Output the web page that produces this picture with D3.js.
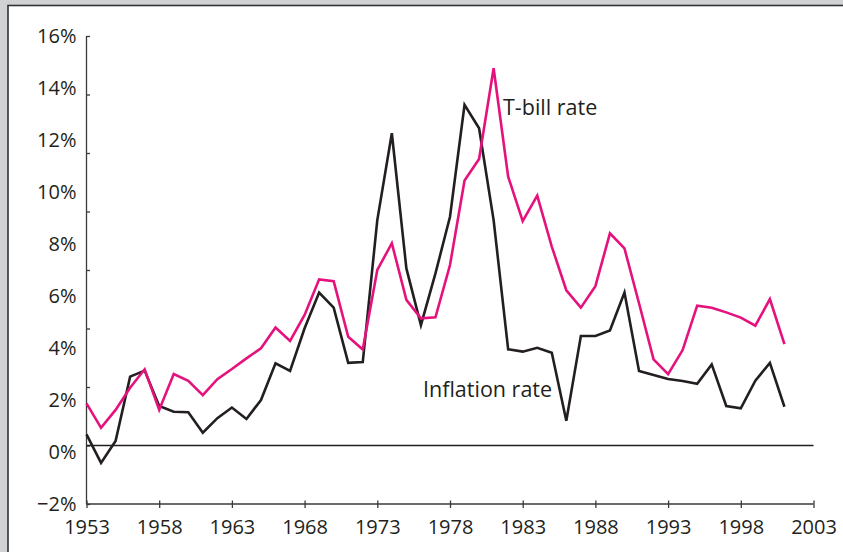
<!DOCTYPE html>
<html>
<head>
<meta charset="utf-8">
<script src="https://cdn.jsdelivr.net/npm/d3@7"></script>
<style>
  html, body { margin: 0; padding: 0; background: #d1d2d4; }
  svg { display: block; }
  svg text { font-family: "Open Sans", "Noto Sans", sans-serif; }
  .axis path, .axis line { stroke: #3a3a3a; stroke-width: 1.3; }
  .axis text { fill: #231f20; font-size: 20px; }
  .series { fill: none; stroke-width: 2.6; stroke-linejoin: miter; }
  .note { fill: #231f20; font-size: 21.5px; }
</style>
</head>
<body>
<svg id="chart" width="843" height="552"></svg>
<script>
// annual figures, 1953 - 2001 (percent)
var years = d3.range(1953, 2002);

var tbillRate = [
  1.87, 0.93, 1.62, 2.47, 3.18, 1.62, 3.00, 2.74, 2.19, 2.80,
  3.19, 3.60, 3.99, 4.79, 4.27, 5.27, 6.64, 6.57, 4.43, 3.94,
  7.00, 8.03, 5.85, 5.14, 5.18, 7.19, 10.44, 11.27, 14.76, 10.59,
  8.88, 9.86, 7.90, 6.22, 5.55, 6.38, 8.41, 7.83, 5.72, 3.56,
  2.99, 3.92, 5.63, 5.55, 5.37, 5.17, 4.86, 5.88, 4.15
];

var inflationRate = [
  0.68, -0.42, 0.42, 2.90, 3.13, 1.77, 1.55, 1.53, 0.74, 1.30,
  1.71, 1.27, 2.00, 3.41, 3.12, 4.76, 6.13, 5.55, 3.43, 3.46,
  8.92, 12.26, 7.06, 4.88, 6.87, 9.05, 13.35, 12.45, 8.92, 3.95,
  3.86, 4.01, 3.82, 1.20, 4.46, 4.46, 4.67, 6.13, 3.12, 2.96,
  2.81, 2.73, 2.62, 3.37, 1.77, 1.68, 2.74, 3.43, 1.74
];

var yLabels = d3.range(-2, 17, 2);      // -2% .. 16%
var yMarks = d3.range(-2, 15, 2);       // the printed tick marks stop one short
var xTicks = d3.range(1953, 2004, 5);

(function() {
  var svg = d3.select('#chart');

  // white panel
  svg.append('rect')
    .attr('x', 8).attr('y', 5.5)
    .attr('width', 860).attr('height', 580)
    .attr('fill', '#fff')
    .attr('stroke', '#333').attr('stroke-width', 1.6);

  var x = d3.scaleLinear().domain([1953, 2003]).range([86.5, 813.5]);
  var y = d3.scaleLinear().domain([-2, 16]).range([504, 36]);
  // the tick marks (and zero rule) in the original are spread over 8 steps, not 9
  var yMark = d3.scaleLinear().domain([-2, 14]).range([504, 36]);

  var fmt = function(d) { return (d < 0 ? '\u2212' : '') + Math.abs(d) + '%'; };

  // y tick marks, crossing the axis
  var gMarks = svg.append('g')
    .attr('class', 'axis')
    .attr('transform', 'translate(' + x(1953) + ',0)')
    .call(d3.axisLeft(yMark).tickValues(yMarks).tickSize(3.5).tickFormat(''));
  gMarks.select('.domain').remove();
  gMarks.selectAll('.tick line').attr('x2', 3.5);

  // y labels + axis line
  var gy = svg.append('g')
    .attr('class', 'axis')
    .attr('transform', 'translate(' + x(1953) + ',0)')
    .call(d3.axisLeft(y).tickValues(yLabels).tickSize(0).tickPadding(10).tickFormat(fmt));
  gy.select('.domain').attr('d', 'M0,' + y(16) + 'V' + y(-2));

  // x axis
  var gx = svg.append('g')
    .attr('class', 'axis')
    .attr('transform', 'translate(0,' + y(-2) + ')')
    .call(d3.axisBottom(x).tickValues(xTicks).tickSize(4).tickFormat(d3.format('d')));
  gx.select('.domain').attr('d', 'M' + x(1953) + ',0H' + x(2003));
  gx.selectAll('.tick line').attr('y1', -3.5);
  gx.selectAll('.tick text').attr('y', 16);

  // zero rule
  svg.append('line')
    .attr('x1', x(1953)).attr('x2', x(2003))
    .attr('y1', yMark(0)).attr('y2', yMark(0))
    .attr('stroke', '#231f20').attr('stroke-width', 1.3);

  var line = function(vals) {
    return d3.line()
      .x(function(d, i) { return x(years[i]); })
      .y(function(d) { return y(d); })(vals);
  };

  svg.append('path')
    .attr('class', 'series')
    .attr('stroke', '#231f20')
    .attr('d', line(inflationRate));

  svg.append('path')
    .attr('class', 'series')
    .attr('stroke', '#e5127d')
    .attr('d', line(tbillRate));

  svg.append('text').attr('class', 'note')
    .attr('x', 503).attr('y', 115)
    .text('T-bill rate');

  svg.append('text').attr('class', 'note')
    .attr('x', 423).attr('y', 397)
    .text('Inflation rate');
})();
</script>
</body>
</html>
